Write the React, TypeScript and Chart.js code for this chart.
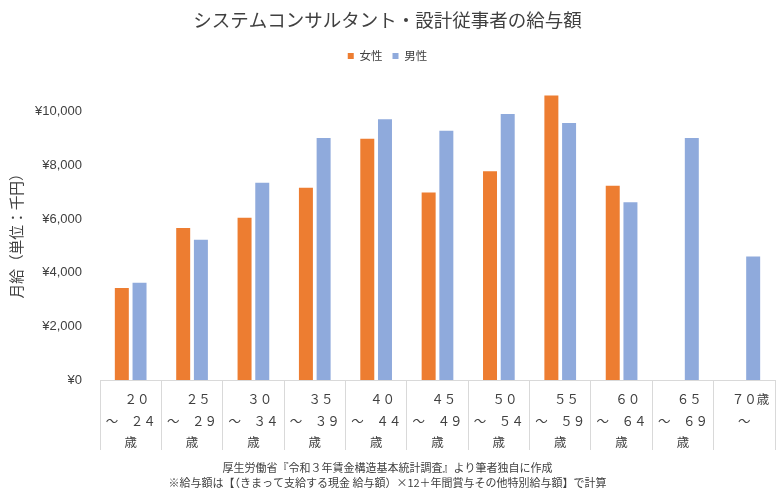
import React, { useEffect, useRef } from 'react';
import { Chart, registerables } from 'chart.js';

Chart.register(...registerables);

const titleText = 'システムコンサルタント・設計従事者の給与額';
const yAxisTitle = '月給（単位：千円）';
const seriesNames = ['女性', '男性'];
const categories: string[][] = [
  ['\u3000２０', '～　２４', '歳'],
  ['\u3000２５', '～　２９', '歳'],
  ['\u3000３０', '～　３４', '歳'],
  ['\u3000３５', '～　３９', '歳'],
  ['\u3000４０', '～　４４', '歳'],
  ['\u3000４５', '～　４９', '歳'],
  ['\u3000５０', '～　５４', '歳'],
  ['\u3000５５', '～　５９', '歳'],
  ['\u3000６０', '～　６４', '歳'],
  ['\u3000６５', '～　６９', '歳'],
  ['\u3000７０歳', '～'],
];
const femaleValues: (number | null)[] = [3430, 5660, 6040, 7160, 8990, 6980, 7780, 10600, 7240, null, null];
const maleValues: (number | null)[] = [3620, 5220, 7350, 9010, 9710, 9280, 9910, 9570, 6620, 9010, 4600];
const yTickValues = [0, 2000, 4000, 6000, 8000, 10000];
const footnotes = [
  '厚生労働省『令和３年賃金構造基本統計調査』より筆者独自に作成',
  '※給与額は【（きまって支給する現金 給与額）×12＋年間賞与その他特別給与額】で計算',
];

const colors = { female: '#ED7D31', male: '#8FAADC', text: '#404040', line: '#D9D9D9' };
const JP = "'Noto Sans CJK JP', 'Noto Sans', sans-serif";

const legendSpacing = {
  id: 'legendSpacing',
  beforeLayout(chart: any) {
    const legend = chart.legend;
    if (legend && !legend._patched) {
      const orig = legend.fit.bind(legend);
      legend.fit = function () {
        orig();
        this.height += 13;
      };
      legend._patched = true;
    }
  },
};

export default function App() {
  const ref = useRef<HTMLCanvasElement | null>(null);
  useEffect(() => {
    if (!ref.current) return;
    const chart = new Chart(ref.current, {
      type: 'bar',
      data: {
        labels: categories,
        datasets: [
          {
            label: seriesNames[0],
            data: femaleValues,
            backgroundColor: colors.female,
            categoryPercentage: 0.577,
            barPercentage: 0.79,
          },
          {
            label: seriesNames[1],
            data: maleValues,
            backgroundColor: colors.male,
            categoryPercentage: 0.577,
            barPercentage: 0.79,
          },
        ],
      },
      options: {
        responsive: false,
        animation: false,
        layout: { padding: { left: 0, right: 5, top: 0, bottom: 0 } },
        plugins: {
          tooltip: { enabled: false },
          title: {
            display: true,
            text: titleText,
            color: colors.text,
            font: { family: JP, size: 18.5, weight: 'normal', lineHeight: 1.2 },
            padding: { top: 9, bottom: 9 },
          },
          subtitle: {
            display: true,
            position: 'bottom',
            text: footnotes,
            color: colors.text,
            font: { family: JP, size: 11, weight: 'normal', lineHeight: 15 / 11 },
            padding: { top: 6, bottom: 6 },
          },
          legend: {
            display: true,
            position: 'top',
            labels: {
              color: colors.text,
              font: { family: JP, size: 11.5 },
              boxWidth: 6,
              boxHeight: 6,
              padding: 10,
            },
          },
        },
        scales: {
          x: {
            offset: true,
            grid: {
              display: true,
              drawOnChartArea: false,
              drawTicks: true,
              tickLength: 70,
              color: colors.line,
              offset: true,
            },
            border: { display: true, color: colors.line, width: 1 },
            ticks: {
              color: colors.text,
              font: { family: JP, size: 12.5, lineHeight: 1.75 },
              padding: -62,
              maxRotation: 0,
              minRotation: 0,
              autoSkip: false,
            },
            afterFit(scale: any) {
              scale.height = 74;
            },
          },
          y: {
            min: 0,
            max: 11000,
            grid: { display: false, drawTicks: false },
            border: { display: false },
            ticks: {
              stepSize: 2000,
              color: colors.text,
              padding: 18,
              font: { family: "'Liberation Sans', Arial, sans-serif", size: 13 },
              callback: (v: any) => '¥' + Number(v).toLocaleString('en-US'),
            },
            afterBuildTicks(scale: any) {
              scale.ticks = yTickValues.map((value) => ({ value }));
            },
            afterFit(scale: any) {
              scale.width = 100;
            },
            title: {
              display: true,
              text: yAxisTitle,
              color: colors.text,
              font: { family: JP, size: 14.7, lineHeight: 1.2 },
              padding: { top: 8, bottom: 0 },
            },
          },
        },
      },
      plugins: [legendSpacing],
    } as any);
    return () => chart.destroy();
  }, []);

  return (
    <div style={{ position: 'fixed', left: 0, top: 0, width: 780, height: 496, background: '#fff' }}>
      <canvas ref={ref} width={780} height={496} style={{ display: 'block' }} />
    </div>
  );
}
